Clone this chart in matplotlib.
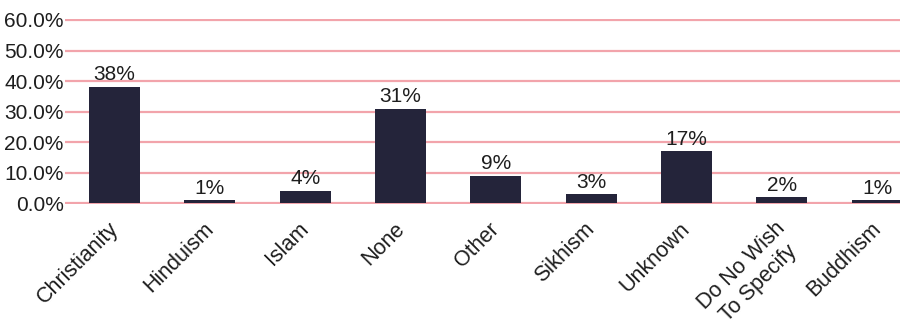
import matplotlib
matplotlib.use("Agg")
import matplotlib.pyplot as plt
import matplotlib.transforms as mtrans
from matplotlib.ticker import FuncFormatter

plt.rcParams['font.family'] = ['Liberation Sans', 'DejaVu Sans']

religions = ["Christianity", "Hinduism", "Islam", "None", "Other", "Sikhism",
             "Unknown", "Do No Wish\nTo Specify", "Buddhism"]
shares = [38, 1, 4, 31, 9, 3, 17, 2, 1]
yticks = [0, 10, 20, 30, 40, 50, 60]

bar_color = "#24243a"
grid_color = "#f2a4ab"
text_color = "#1e1e1e"

fig = plt.figure(figsize=(9, 3.34), dpi=100)
ax = fig.add_axes([65 / 900, 0.388, 860 / 900, 0.555])

x = range(len(religions))
bars = ax.bar(x, shares, width=0.535, color=bar_color, zorder=3)

for b, v in zip(bars, shares):
    ax.annotate(f"{v}%", (b.get_x() + b.get_width() / 2, v),
                xytext=(0, 2), textcoords="offset points",
                ha="center", va="bottom", fontsize=15, color=text_color, zorder=4)

ax.set_xlim(-0.52, 8.5)
ax.set_ylim(-0.3, 60.3)
ax.set_yticks(yticks)
ax.yaxis.set_major_formatter(FuncFormatter(lambda v, _: f"{v:.1f}%"))
ax.yaxis.grid(True, color=grid_color, linewidth=1.6, zorder=0)
ax.set_axisbelow(True)

ax.set_xticks(list(x))
ax.set_xticklabels(religions, rotation=45, ha="right", rotation_mode="anchor",
                   multialignment="center")
ax.tick_params(axis="x", length=0, pad=10, labelsize=15.5, labelcolor=text_color)
ax.tick_params(axis="y", length=0, pad=1, labelsize=15, labelcolor=text_color)

# nudge the slanted category names a little to the left
shift = mtrans.ScaledTranslation(-0.07, 0, fig.dpi_scale_trans)
for lbl in ax.get_xticklabels():
    lbl.set_transform(lbl.get_transform() + shift)

for s in ax.spines.values():
    s.set_visible(False)

fig.savefig("out.png", dpi=100)
